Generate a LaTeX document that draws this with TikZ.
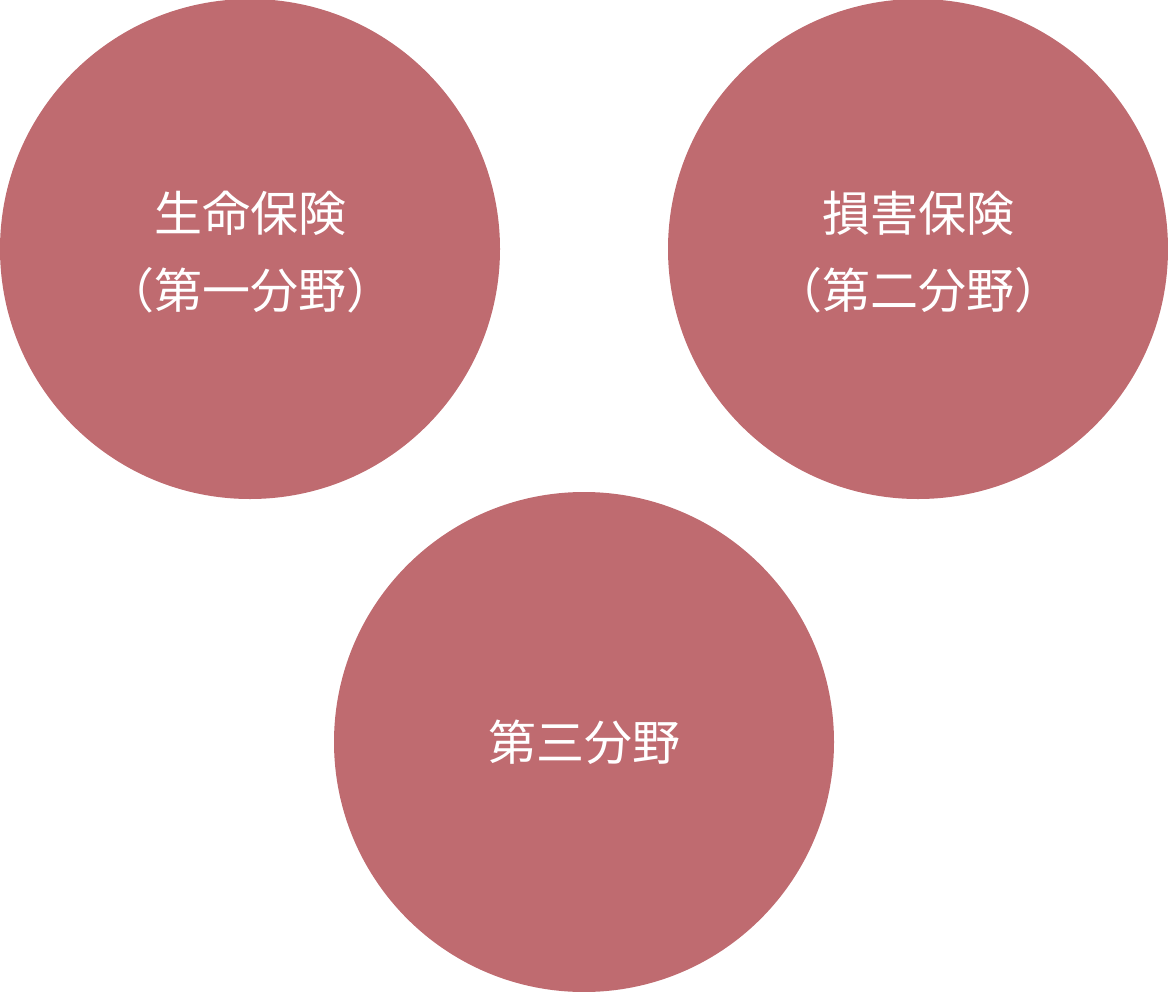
\documentclass[tikz,border=0pt]{standalone}
\usepackage{fontspec}
\newfontfamily\cjk{Noto Sans CJK JP}
\definecolor{circ}{HTML}{BF6B70}
\begin{document}
\begin{tikzpicture}[x=0.75pt,y=-0.75pt,
  bub/.style={circle,fill=circ,minimum size=375pt,inner sep=0pt},
  lbl/.style={text=white,font=\cjk\fontsize{36pt}{58pt}\selectfont,align=center}]
\useasboundingbox (0,0) rectangle (1168,992);
\node[bub] (a) at (250,249) {};
\node[bub] (b) at (918,249) {};
\node[bub] (c) at (584,742) {};
\node[lbl] (ta) at (250,252) {生命保険\\（第一分野）};
\node[lbl] (tb) at (918,252) {損害保険\\（第二分野）};
\node[lbl] (tc) at (584,742) {第三分野};
\end{tikzpicture}
\end{document}
